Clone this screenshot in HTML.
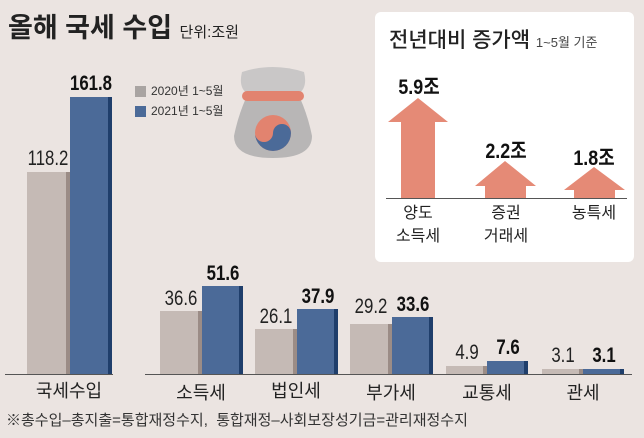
<!DOCTYPE html>
<html><head><meta charset="utf-8"><style>
body{margin:0;width:644px;height:438px;background:#ebe4e1;overflow:hidden;font-family:"Liberation Sans","Noto Sans CJK KR",sans-serif;position:relative}
.a{position:absolute}
.g{position:absolute;background:#c5bab5;border-right:4px solid #9b8c86;box-sizing:border-box}
.b{position:absolute;background:#4b6a98;border-right:4px solid #1f3e6b;box-sizing:border-box}
.v{position:absolute;font-size:21px;color:#222;text-align:center;width:60px;transform:scaleX(0.8)}
.vb{font-weight:bold;color:#111}
.l{position:absolute;font-size:18px;color:#222;text-align:center;width:90px}
.n{position:absolute;width:60px;text-align:center;font-size:21px;font-weight:bold;color:#111;transform:scaleX(0.85)}
</style></head><body>
<div class="a" style="left:8px;top:6px;font-size:27px;font-weight:bold;color:#222">올해 국세 수입 <span style="font-size:15px;font-weight:normal">단위:조원</span></div>
<div class="a" style="left:135px;top:86px;width:11px;height:11px;background:#a9a4a2"></div>
<div class="a" style="left:151px;top:82px;font-size:12px;color:#333">2020년 1~5월</div>
<div class="a" style="left:135px;top:106px;width:11px;height:11px;background:#4b6a98"></div>
<div class="a" style="left:151px;top:102px;font-size:12px;color:#333">2021년 1~5월</div>
<svg class="a" style="left:228px;top:66px" width="90" height="96" viewBox="0 0 90 96">
<path d="M14 6 Q45 -4 76 6 Q80 22 70 28 L20 28 Q10 22 14 6Z" fill="#c9c7c7"/>
<path d="M18 32 Q10 50 6 70 Q6 92 45 92 Q84 92 84 70 Q80 50 72 32Z" fill="#b8b6b6"/>
<rect x="14" y="25" width="62" height="10" rx="5" fill="#e2836f"/>
<circle cx="45" cy="67" r="18" fill="#e2836f"/>
<path d="M27 67 A18 18 0 0 0 63 67 A9 9 0 0 0 45 67 A9 9 0 0 1 27 67Z" fill="#4b6a98"/>
</svg>
<div class="g" style="left:27px;top:172px;width:43px;height:202px"></div>
<div class="b" style="left:70px;top:97px;width:42px;height:277px"></div>
<div class="v" style="left:18px;top:147px">118.2</div>
<div class="v vb" style="left:61px;top:72px">161.8</div>
<div class="g" style="left:160px;top:311px;width:42px;height:63px"></div>
<div class="b" style="left:202px;top:286px;width:41px;height:88px"></div>
<div class="v" style="left:151px;top:287px">36.6</div>
<div class="v vb" style="left:193px;top:262px">51.6</div>
<div class="g" style="left:255px;top:329px;width:42px;height:45px"></div>
<div class="b" style="left:297px;top:309px;width:41px;height:65px"></div>
<div class="v" style="left:246px;top:305px">26.1</div>
<div class="v vb" style="left:288px;top:285px">37.9</div>
<div class="g" style="left:350px;top:324px;width:42px;height:50px"></div>
<div class="b" style="left:392px;top:317px;width:41px;height:57px"></div>
<div class="v" style="left:341px;top:295px">29.2</div>
<div class="v vb" style="left:383px;top:293px">33.6</div>
<div class="g" style="left:446px;top:366px;width:41px;height:8px"></div>
<div class="b" style="left:487px;top:361px;width:41px;height:13px"></div>
<div class="v" style="left:437px;top:341px">4.9</div>
<div class="v vb" style="left:478px;top:336px">7.6</div>
<div class="g" style="left:542px;top:369px;width:41px;height:5px"></div>
<div class="b" style="left:583px;top:369px;width:41px;height:5px"></div>
<div class="v" style="left:533px;top:344px">3.1</div>
<div class="v vb" style="left:574px;top:344px">3.1</div>
<div class="a" style="left:5px;top:374px;width:108px;height:1px;background:#555"></div>
<div class="a" style="left:145px;top:374px;width:487px;height:1px;background:#555"></div>
<div class="l" style="left:24px;top:377px">국세수입</div>
<div class="l" style="left:156px;top:379px">소득세</div>
<div class="l" style="left:251px;top:377px">법인세</div>
<div class="l" style="left:346px;top:379px">부가세</div>
<div class="l" style="left:442px;top:379px">교통세</div>
<div class="l" style="left:538px;top:379px">관세</div>
<div class="a" style="left:6px;top:409px;font-size:15px;color:#333">※총수입–총지출=통합재정수지,&nbsp; 통합재정–사회보장성기금=관리재정수지</div>
<div class="a" style="left:375px;top:12px;width:259px;height:250px;background:#fff;border-radius:6px"></div>
<div class="a" style="left:389px;top:24px;font-size:21px;color:#222;font-weight:500">전년대비 증가액 <span style="font-size:13px;color:#444;font-weight:normal">1~5월 기준</span></div>
<svg class="a" style="left:375px;top:12px" width="259" height="250">
<polygon points="13,110 43,86 73,110 60,110 60,186 26,186 26,110" fill="#e58a76"/>
<polygon points="100,174 130,149 161,174 151,174 151,186 110,186 110,174" fill="#e58a76"/>
<polygon points="189,178 219,155 250,178 240,178 240,186 199,186 199,178" fill="#e58a76"/>
<line x1="11" y1="186.5" x2="252" y2="186.5" stroke="#555" stroke-width="1"/>
</svg>
<div class="n" style="left:389px;top:71px">5.9조</div>
<div class="n" style="left:476px;top:135px">2.2조</div>
<div class="n" style="left:564px;top:142px">1.8조</div>
<div class="a" style="left:383px;top:202px;width:70px;text-align:center;font-size:16px;line-height:23px;color:#222">양도<br>소득세</div>
<div class="a" style="left:471px;top:202px;width:70px;text-align:center;font-size:16px;line-height:23px;color:#222">증권<br>거래세</div>
<div class="a" style="left:559px;top:202px;width:70px;text-align:center;font-size:16px;line-height:23px;color:#222">농특세</div>
</body></html>
